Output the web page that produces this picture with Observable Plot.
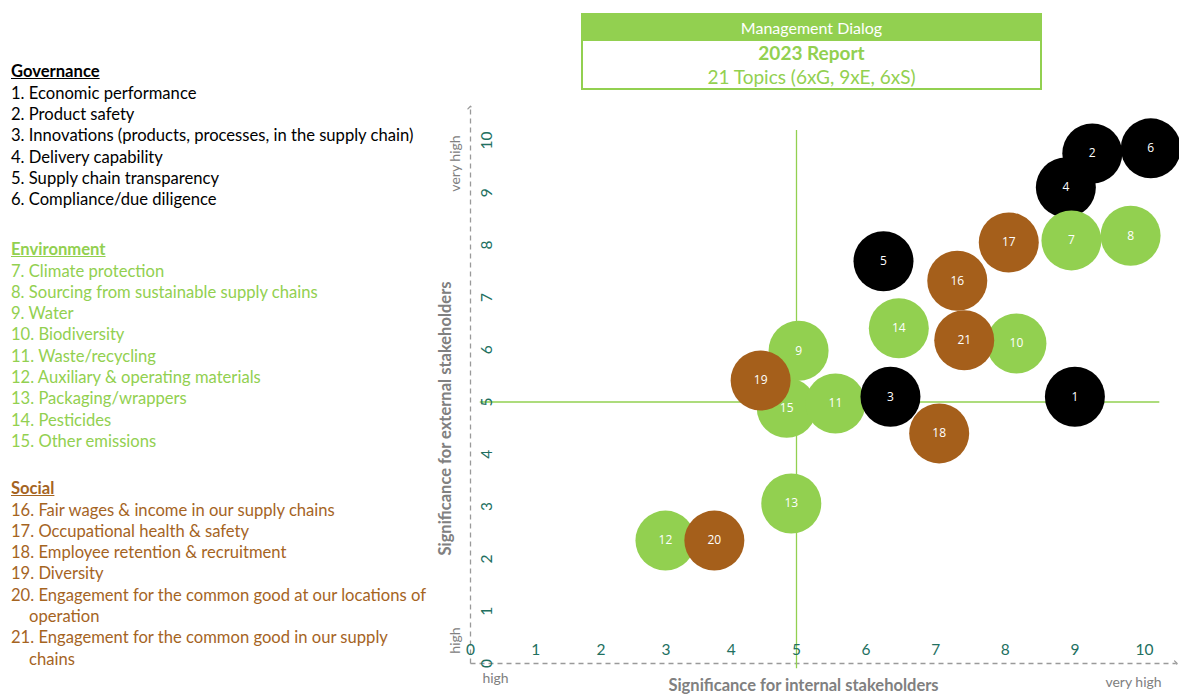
<!DOCTYPE html>
<html><head><meta charset="utf-8">
<script src="https://cdn.jsdelivr.net/npm/d3@7"></script>
<script src="https://cdn.jsdelivr.net/npm/@observablehq/plot@0.6"></script>
<style>
body{margin:0;width:1179px;height:695px;position:relative;overflow:hidden;background:#fff;font-family:Lato,sans-serif;}
#chart{position:absolute;left:0;top:0;}
.legend{position:absolute;left:11px;font-size:16.6px;line-height:21.3px;width:420px;white-space:normal}
.legend .head{font-weight:bold;text-decoration:underline}
.legend .item{padding-left:18px;text-indent:-18px}
#titlebox{position:absolute;left:581px;top:13px;width:457px;height:73px;border:2px solid #92d050;text-align:center;color:#92d050}
#titlebox .bar{background:#92d050;color:#fff;height:26px;line-height:26px;font-size:16px}
#titlebox .l1{font-weight:bold;font-size:19px;line-height:24px;margin-top:0px}
#titlebox .l2{font-size:19px;line-height:24px}
</style></head>
<body>
<div id="chart"></div>
<div id="titlebox"><div class="bar">Management Dialog</div><div class="l1">2023 Report</div><div class="l2">21 Topics (6xG, 9xE, 6xS)</div></div>
<div id="legend"></div>
<script>
// ---- data ----
const topicIds = [1,2,3,4,5,6,7,8,9,10,11,12,13,14,15,16,17,18,19,20,21];
const internalSignificance = [9.0, 9.25, 6.35, 8.87, 6.25, 10.09, 8.95, 9.8, 5.03, 8.16, 5.56, 2.99, 4.92, 6.47, 4.85, 7.31, 8.05, 7.05, 4.45, 3.74, 7.41];
const externalSignificance = [5.1, 9.75, 5.1, 9.1, 7.69, 9.85, 8.09, 8.18, 5.98, 6.12, 4.97, 2.35, 3.06, 6.41, 4.89, 7.32, 8.05, 4.4, 5.41, 2.35, 6.18];
const topicGroups = ["G","G","G","G","G","G","E","E","E","E","E","E","E","E","E","S","S","S","S","S","S"];
const drawOrder = [6,2,4,7,8,17,16,5,14,10,21,9,15,11,19,3,1,18,13,12,20];
const groupNames = ["Governance","Environment","Social"];
const groupKeys = ["G","E","S"];
const groupColors = ["#000000","#92d050","#a55f1b"];
const legendTextColors = ["#000000","#92d050","#a5641f"];
const governanceTopics = ["Economic performance","Product safety","Innovations (products, processes, in the supply chain)","Delivery capability","Supply chain transparency","Compliance/due diligence"];
const environmentTopics = ["Climate protection","Sourcing from sustainable supply chains","Water","Biodiversity","Waste/recycling","Auxiliary & operating materials","Packaging/wrappers","Pesticides","Other emissions"];
const socialTopics = ["Fair wages & income in our supply chains","Occupational health & safety","Employee retention & recruitment","Diversity","Engagement for the common good at our locations of operation","Engagement for the common good in our supply chains"];
const xTicks = [0,1,2,3,4,5,6,7,8,9,10];
const yTicks = [0,1,2,3,4,5,6,7,8,9,10];
const xAxisExtent = [0, 10.45];
const yAxisExtent = [0, 10.63];
const crossX = [5], crossY = [5];
const crossXExtent = [-0.1, 10.19];
const crossYExtent = [0.15, 10.22];

// ---- legend ----
const legendTops = [61.4, 239.3, 478.3];
const lists = [governanceTopics, environmentTopics, socialTopics];
let n = 0;
const legendEl = document.getElementById("legend");
lists.forEach((list, gi) => {
  const div = document.createElement("div");
  div.className = "legend";
  div.style.top = legendTops[gi] + "px";
  div.style.color = legendTextColors[gi];
  let html = `<div class="head">${groupNames[gi]}</div>`;
  list.forEach(name => { n++; html += `<div class="item">${n}. ${name.replace(/&/g,"&amp;")}</div>`; });
  div.innerHTML = html;
  legendEl.appendChild(div);
});

// ---- chart ----
const rows = drawOrder.map(id => {
  const i = topicIds.indexOf(id);
  return {id, x: internalSignificance[i], y: externalSignificance[i], g: topicGroups[i]};
});
const axisLinks = [
  {x1: 0, y1: 0, x2: xAxisExtent[1], y2: 0},
  {x1: 0, y1: 0, x2: 0, y2: yAxisExtent[1]}
];
const teal = "#22705f", gray = "#808080";
const plot = Plot.plot({
  width: 1179, height: 695,
  marginLeft: 470, marginRight: 4, marginTop: 107, marginBottom: 32,
  style: {fontFamily: "Lato, sans-serif", background: "transparent"},
  x: {type: "linear", domain: [0, 5, 10], range: [470, 796, 1144], axis: null},
  y: {type: "linear", domain: [0, 10], range: [663, 140], axis: null},
  color: {domain: groupKeys, range: groupColors},
  marks: [
    Plot.link(axisLinks, {x1: "x1", y1: "y1", x2: "x2", y2: "y2", stroke: "#9a9a9a", strokeWidth: 1.3, strokeDasharray: "5,4", markerEnd: "arrow"}),
    Plot.ruleX(crossX, {x: d => d, y1: crossXExtent[0], y2: crossXExtent[1], stroke: "#92d050", strokeWidth: 1.3}),
    Plot.ruleY(crossY, {y: d => d, x1: crossYExtent[0], x2: crossYExtent[1], stroke: "#92d050", strokeWidth: 1.3}),
    Plot.text(xTicks, {x: d => d, frameAnchor: "bottom", dy: -13, text: d => String(d), fill: teal, fontSize: 15.5, textAnchor: "middle", lineAnchor: "middle"}),
    Plot.text(yTicks, {y: d => d, frameAnchor: "left", dx: 17, text: d => String(d), fill: teal, fontSize: 15.5, rotate: -90, textAnchor: "middle", lineAnchor: "middle"}),
    Plot.text(["high"], {frameAnchor: "bottom-left", dx: 25, dy: 15, text: d => d, fill: gray, fontSize: 14, textAnchor: "middle", lineAnchor: "middle"}),
    Plot.text(["very high"], {frameAnchor: "bottom-right", dx: -42, dy: 19, text: d => d, fill: gray, fontSize: 14, textAnchor: "middle", lineAnchor: "middle"}),
    Plot.text(["high"], {frameAnchor: "bottom-left", dx: -15, dy: -23, text: d => d, fill: gray, fontSize: 14, rotate: -90, textAnchor: "middle", lineAnchor: "middle"}),
    Plot.text(["very high"], {frameAnchor: "top-left", dx: -15, dy: 56, text: d => d, fill: gray, fontSize: 14, rotate: -90, textAnchor: "middle", lineAnchor: "middle"}),
    Plot.text(["Significance for internal stakeholders"], {frameAnchor: "bottom-left", dx: 333, dy: 22, text: d => d, fill: gray, fontSize: 16.5, fontWeight: "bold", textAnchor: "middle", lineAnchor: "middle"}),
    Plot.text(["Significance for external stakeholders"], {frameAnchor: "left", dx: -25, dy: 33, text: d => d, fill: gray, fontSize: 16.5, fontWeight: "bold", rotate: -90, textAnchor: "middle", lineAnchor: "middle"}),
    Plot.dot(rows, {x: "x", y: "y", r: 30, fill: "g", stroke: "none"}),
    Plot.text(rows, {x: "x", y: "y", text: d => String(d.id), fill: "white", fontSize: 12, fontFamily: "Open Sans, sans-serif"})
  ]
});
document.getElementById("chart").appendChild(plot);
</script>
</body></html>
